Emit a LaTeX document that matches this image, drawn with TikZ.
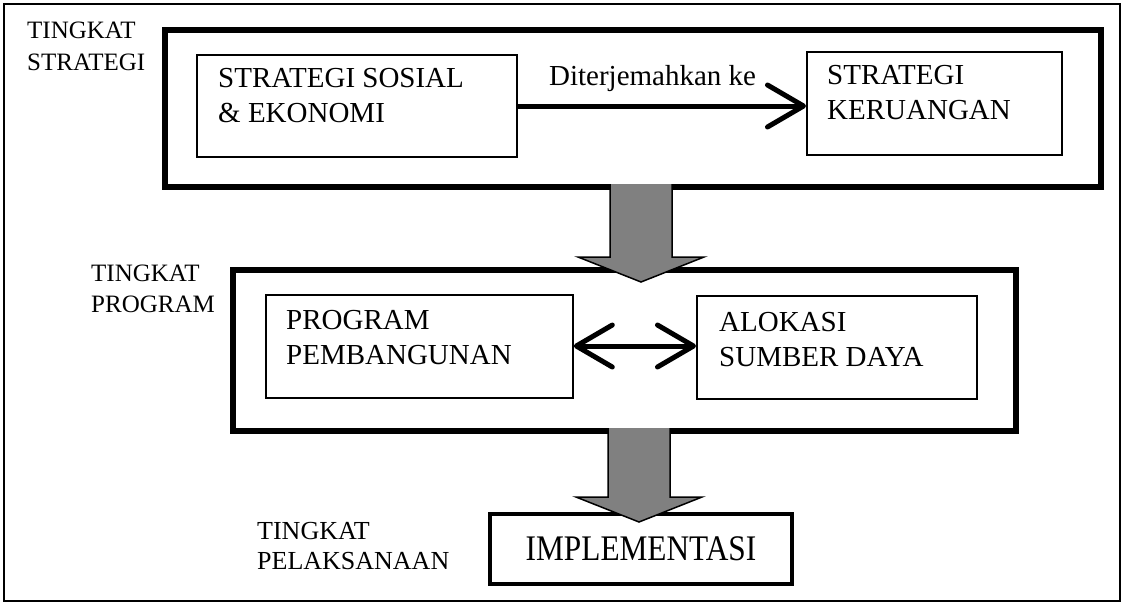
\documentclass[tikz,border=0pt]{standalone}
\usepackage{fontspec}
\usepackage{graphicx}
\setmainfont{Liberation Serif}
\usetikzlibrary{arrows.meta,calc}

\tikzset{
  lbl/.style={anchor=north west, align=left, inner sep=0pt,
    font=\fontsize{25}{31}\selectfont},
  level/.style={draw, line width=6pt, anchor=north west, inner sep=0pt},
  box/.style={draw, line width=1.8pt, anchor=north west, inner sep=0pt},
  boxtxt/.style={anchor=north west, align=left, inner sep=0pt,
    font=\fontsize{29}{35}\selectfont},
  barb/.tip={Straight Barb[length=36pt,width=42pt,round]},
  fatarrow/.style={draw, line width=1.5pt, fill=black!50, line join=miter}
}

% panah tebal ke bawah, #1 = pangkal, #2 = ujung
\newcommand{\fatdown}[2]{%
  \draw[fatarrow] ($(#1)+(-31,0)$) -- ($(#2)+(-31,-25)$) -- ($(#2)+(-63,-25)$)
    -- (#2) -- ($(#2)+(63,-25)$) -- ($(#2)+(31,-25)$) -- ($(#1)+(31,0)$);}

\begin{document}
\begin{tikzpicture}[x=1pt,y=-1pt]
  \useasboundingbox (0,0) rectangle (1126,606);
  \draw[line width=1.2pt] (4,4) rectangle (1120,601);

  % tingkat strategi
  \node[lbl, font=\fontsize{25}{32}\selectfont] (lstrat) at (27,22) {TINGKAT\\STRATEGI};
  \node[level, minimum width=936pt, minimum height=157pt] (strat) at (162,27) {};
  \node[box, minimum width=320pt, minimum height=102pt] (sosek) at (196,54) {};
  \node[boxtxt] (sosektxt) at (218,68) {STRATEGI SOSIAL\\\& EKONOMI};
  \node[box, minimum width=255pt, minimum height=103pt] (ruang) at (806,51) {};
  \node[boxtxt] (ruangtxt) at (827,65) {STRATEGI\\KERUANGAN};
  \draw[line width=5pt, -barb]
    (sosek.east |- 0,106) -- (ruang.west |- 0,106)
    node[pos=0.1, anchor=base west, inner sep=0pt, yshift=21pt,
      font=\fontsize{29}{35}\selectfont] (terj) {Diterjemahkan ke};

  % tingkat program
  \node[lbl] (lprog) at (91,265) {TINGKAT\\PROGRAM};
  \node[level, minimum width=783pt, minimum height=161pt] (prog) at (230,267) {};
  \node[box, minimum width=307pt, minimum height=103pt] (bangun) at (265,294) {};
  \node[boxtxt] (bangunttxt) at (286,310) {PROGRAM\\PEMBANGUNAN};
  \node[box, minimum width=280pt, minimum height=103pt] (sumber) at (696,295) {};
  \node[boxtxt] (sumbertxt) at (719,312) {ALOKASI\\SUMBER DAYA};
  \draw[line width=5pt, barb-barb]
    (bangun.east |- 0,346) -- (sumber.west |- 0,346);

  % tingkat pelaksanaan
  \node[lbl, font=\fontsize{26}{30}\selectfont] (lpel) at (257,522) {TINGKAT\\PELAKSANAAN};
  \node[draw, line width=4pt, anchor=north west, minimum width=302pt,
    minimum height=70pt, font=\fontsize{36}{38}\selectfont] (impl) at (488,512)
    {\scalebox{0.87}[1]{IMPLEMENTASI}};

  % panah antar tingkat
  \coordinate (t1) at (641,184);
  \coordinate (h1) at (641,282);
  \coordinate (t2) at (639,428);
  \coordinate (h2) at (639,522);
  \fatdown{t1}{h1}
  \fatdown{t2}{h2}
\end{tikzpicture}
\end{document}
